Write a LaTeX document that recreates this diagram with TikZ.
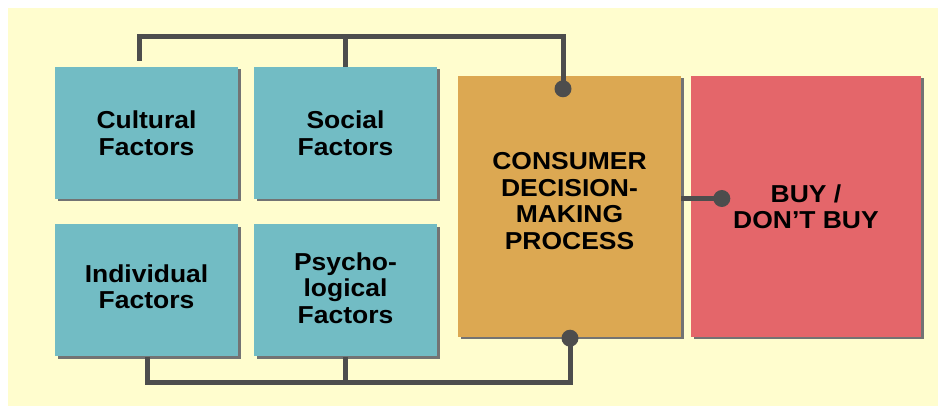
\documentclass[tikz,border=0pt]{standalone}
\usepackage{fontspec}
\setmainfont{Liberation Sans}[FakeStretch=1.08]
\usepackage{tikz}
\usetikzlibrary{positioning,shadows}

\definecolor{bgyellow}{RGB}{255,253,206}
\definecolor{factorteal}{RGB}{114,188,196}
\definecolor{processorange}{RGB}{220,168,82}
\definecolor{buyred}{RGB}{228,102,106}
\definecolor{busgray}{RGB}{77,77,77}

\begin{document}
\begin{tikzpicture}[x=1pt, y=-1pt,
    panel/.style={draw=none, align=center, inner sep=0pt,
        font=\fontsize{24.5}{26.5}\selectfont\bfseries,
        drop shadow={shadow xshift=2.5pt, shadow yshift=-2.5pt, fill=black!55, opacity=1}},
    factor/.style={panel, fill=factorteal, minimum width=183pt, minimum height=132pt},
    process/.style={panel, fill=processorange, minimum width=223pt, minimum height=261pt},
    outcome/.style={panel, fill=buyred, minimum width=230pt, minimum height=261pt},
    bus/.style={draw=busgray, line width=5pt},
    joint/.style={fill=busgray}]

    \useasboundingbox (0,0) rectangle (938,406);
    \path[fill=bgyellow] (8,8) rectangle (938,406);

    \node[factor] (cult) at (146.5,133) {Cultural\\Factors};
    \node[factor] (soc) at (345.5,133) {Social\\Factors};
    \node[factor, text depth=8pt] (indiv) at (146.5,290.5) {Individual\\Factors};
    \node[factor, text depth=5pt] (psych) at (345.5,290.5) {Psycho-\\logical\\Factors};
    \node[process, text depth=11pt] (cons) at (569.5,206.5) {CONSUMER\\DECISION-\\MAKING\\PROCESS};
    \node[outcome] (buy) at (806,206.5) {BUY /\\DON’T BUY};

    \coordinate (topbus) at (563,37);
    \coordinate (lowbus) at (570,382);
    \coordinate (topjoint) at ([xshift=-6.5pt,yshift=-13pt]cons.north);
    \coordinate (lowjoint) at ([xshift=0.5pt,yshift=-1pt]cons.south);
    \coordinate (outjoint) at ([xshift=31pt,yshift=8pt]buy.west);

    % upper factors feed the process from above
    \path[bus] ([xshift=-7.5pt,yshift=6pt]cult.north) |- (topbus) -- (topjoint);
    \path[bus] (soc.north) -- (soc.north |- topbus);

    % lower factors feed the process from below
    \path[bus] ([xshift=0.5pt]indiv.south) |- (lowbus) -- (lowjoint);
    \path[bus] (psych.south) -- (psych.south |- lowbus);

    \path[bus] ([yshift=8pt]cons.east) -- (outjoint);

    \path[joint] (topjoint) circle (8.5pt);
    \path[joint] (lowjoint) circle (8.5pt);
    \path[joint] (outjoint) circle (8.5pt);

\end{tikzpicture}
\end{document}
